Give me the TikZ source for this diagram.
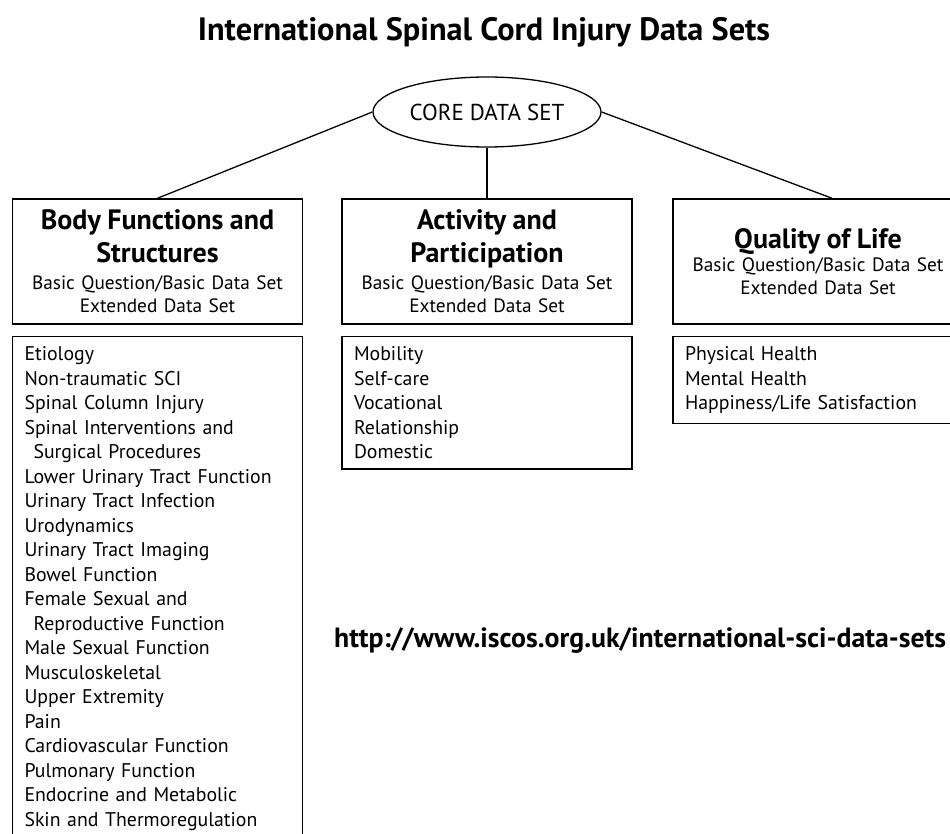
\documentclass[tikz,border=0pt]{standalone}
\usepackage{fontspec}
\setmainfont{PT Sans}
\usetikzlibrary{shapes}
\usetikzlibrary{positioning}
\newcommand\headfont{\fontsize{28}{33}\selectfont\bfseries}
\begin{document}
\begin{tikzpicture}[x=1pt,y=-1pt,
		head/.style={draw,rectangle,line width=1.5pt,minimum width=290pt,minimum height=125pt,text width=284pt,align=center,inner sep=0pt,font=\fontsize{19.3}{23}\selectfont},
		list/.style={draw,rectangle,line width=1.5pt,minimum width=290pt,text width=266pt,align=left,inner xsep=12pt,inner ysep=10pt,font=\fontsize{19.8}{24.5}\selectfont},
		link/.style={line width=1.3pt}]
		\clip (0,0) rectangle (950,834);
		\fill[white] (0,0) rectangle (950,834);
		\node (title) at (484,32) {\fontsize{32.3}{36}\selectfont\bfseries International Spinal Cord Injury Data Sets};
		\node (core) [draw,ellipse,line width=1.3pt,minimum width=228pt,minimum height=70pt,inner sep=0pt,font=\fontsize{23}{26}\selectfont] at (487,112) {CORE DATA SET};
		\node (body) [head] at (157.5,261.5) {{\headfont Body Functions and\\Structures\par}\vspace{4pt}Basic Question/Basic Data Set\\Extended Data Set};
		\node (act) [head] at (487,261.5) {{\headfont Activity and\\Participation\par}\vspace{4pt}Basic Question/Basic Data Set\\Extended Data Set};
		\node (qol) [head] at (818,261.5) {{\headfont Quality of Life\par}Basic Question/Basic Data Set\\Extended Data Set};
		\node (bodylist) [list,below=11pt of body.south west,anchor=north west] {Etiology\\Non-traumatic SCI\\Spinal Column Injury\\Spinal Interventions and\\\hspace*{9pt}Surgical Procedures\\Lower Urinary Tract Function\\Urinary Tract Infection\\Urodynamics\\Urinary Tract Imaging\\Bowel Function\\Female Sexual and\\\hspace*{9pt}Reproductive Function\\Male Sexual Function\\Musculoskeletal\\Upper Extremity\\Pain\\Cardiovascular Function\\Pulmonary Function\\Endocrine and Metabolic\\Skin and Thermoregulation};
		\node (actlist) [list,below=11pt of act.south west,anchor=north west] {Mobility\\Self-care\\Vocational\\Relationship\\Domestic};
		\node (qollist) [list,below=11pt of qol.south west,anchor=north west] {Physical Health\\Mental Health\\Happiness/Life Satisfaction};
		\node (url) [anchor=west,inner sep=0pt,font=\fontsize{27.8}{32}\selectfont\bfseries] at (334,641) {http://www.iscos.org.uk/international-sci-data-sets};
		\draw[link] (core.west) -- (body.north);
		\draw[link] (core.south) -- (act.north);
		\draw[link] (core.east) -- ([xshift=14pt]qol.north);
	\end{tikzpicture}
\end{document}
